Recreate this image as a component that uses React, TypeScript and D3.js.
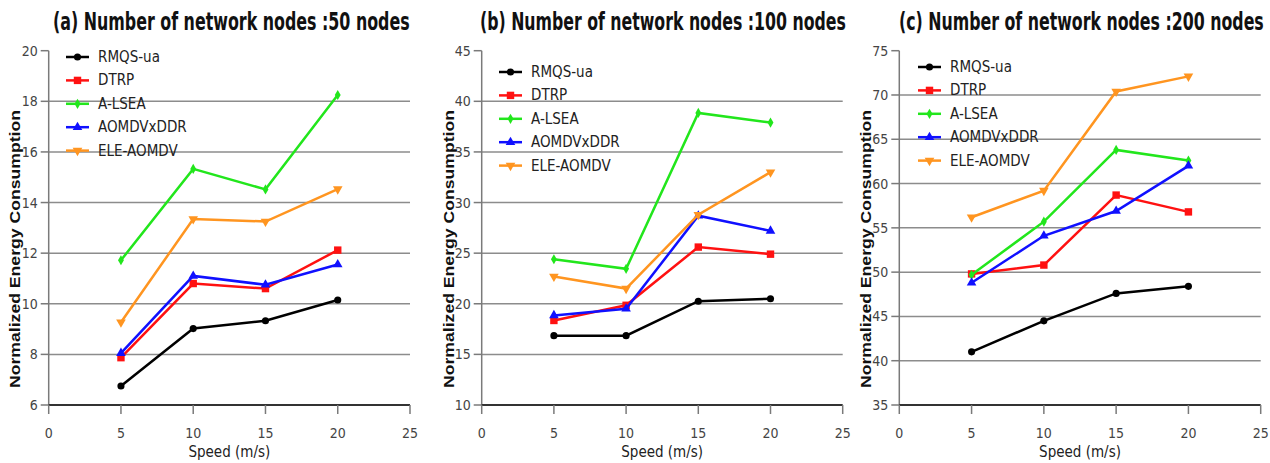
import React, { useEffect, useRef } from "react";
import * as d3 from "d3";

// speeds (m/s)
const speeds = [5, 10, 15, 20];
const seriesNames = ["RMQS-ua", "DTRP", "A-LSEA", "AOMDVxDDR", "ELE-AOMDV"];
const seriesColors = ["#000000", "#ff1111", "#22e61c", "#1010ff", "#ff9520"];

// (a) 50 nodes
const nodes50 = [
  [6.75, 9.02, 9.33, 10.15],
  [7.87, 10.8, 10.6, 12.12],
  [11.72, 15.33, 14.52, 18.25],
  [8.05, 11.1, 10.75, 11.55],
  [9.27, 13.35, 13.25, 14.53],
];
// (b) 100 nodes
const nodes100 = [
  [16.85, 16.85, 20.25, 20.5],
  [18.35, 19.85, 25.6, 24.9],
  [24.4, 23.45, 38.85, 37.9],
  [18.85, 19.5, 28.7, 27.2],
  [22.7, 21.5, 28.8, 33.0],
];
// (c) 200 nodes
const nodes200 = [
  [41.0, 44.5, 47.6, 48.4],
  [49.8, 50.8, 58.7, 56.8],
  [49.7, 55.7, 63.8, 62.6],
  [48.8, 54.1, 56.9, 62.0],
  [56.2, 59.2, 70.4, 72.1],
];

const yTicksA = [6, 8, 10, 12, 14, 16, 18, 20];
const yTicksB = [10, 15, 20, 25, 30, 35, 40, 45];
const yTicksC = [35, 40, 45, 50, 55, 60, 65, 70, 75];
const xTicks = [0, 5, 10, 15, 20, 25];

const panels = [
  { title: "(a) Number of network nodes :50 nodes", data: nodes50, yTicks: yTicksA, left: 48.7, right: 410, titleX: 53, titleW: 357, legX: 66, legY: 57, labelX: 15 },
  { title: "(b) Number of network nodes :100 nodes", data: nodes100, yTicks: yTicksB, left: 481.7, right: 842.7, titleX: 480, titleW: 366, legX: 499, legY: 72, labelX: 449 },
  { title: "(c) Number of network nodes :200 nodes", data: nodes200, yTicks: yTicksC, left: 899.3, right: 1260.7, titleX: 899, titleW: 365, legX: 918, legY: 67, labelX: 866 },
];

const symbols = [d3.symbolCircle, d3.symbolSquare, d3.symbolDiamond, d3.symbolTriangle, d3.symbolTriangle];
const symSizes = [40, 55, 30, 40, 40];

const App: React.FC = () => {
  const ref = useRef<SVGSVGElement>(null);

  useEffect(() => {
    if (!ref.current) return;
    const svg = d3.select(ref.current);
    svg.selectAll("*").remove();

    const top = 50.7;
    const bottom = 405;
    const cond = "'DejaVu Sans Condensed', 'Liberation Sans Narrow', sans-serif";

    panels.forEach((p) => {
      const x = d3.scaleLinear().domain([0, 25]).range([p.left, p.right]);
      const y = d3
        .scaleLinear()
        .domain([p.yTicks[0], p.yTicks[p.yTicks.length - 1]])
        .range([bottom, top]);
      const g = svg.append("g");

      // title: squeezed horizontally to the width seen in the picture
      const title = g
        .append("text")
        .attr("x", 0)
        .attr("y", 0)
        .style("font-family", "'Liberation Sans Narrow', 'DejaVu Sans Condensed', sans-serif")
        .style("font-weight", "bold")
        .style("font-size", "24px")
        .style("fill", "#111")
        .text(p.title);
      const natural = (title.node() as SVGTextElement).getComputedTextLength() || p.titleW;
      title.attr("transform", `translate(${p.titleX},30) scale(${p.titleW / natural},1)`);

      // gridlines
      g.selectAll("line.grid")
        .data(p.yTicks.slice(1, -1))
        .enter()
        .append("line")
        .attr("x1", p.left)
        .attr("x2", p.right)
        .attr("y1", (d) => y(d))
        .attr("y2", (d) => y(d))
        .attr("stroke", "#8c8c8c")
        .attr("stroke-width", 1.5);

      // y axis
      g.append("line")
        .attr("x1", p.left).attr("x2", p.left)
        .attr("y1", top).attr("y2", bottom)
        .attr("stroke", "#7a7a7a").attr("stroke-width", 1.5);
      g.selectAll("line.ytick")
        .data(p.yTicks)
        .enter()
        .append("line")
        .attr("x1", p.left - 8).attr("x2", p.left)
        .attr("y1", (d) => y(d)).attr("y2", (d) => y(d))
        .attr("stroke", "#7a7a7a").attr("stroke-width", 1.5);
      g.selectAll("text.ytick")
        .data(p.yTicks)
        .enter()
        .append("text")
        .attr("x", p.left - 11)
        .attr("y", (d) => y(d) + 5)
        .attr("text-anchor", "end")
        .style("font-family", cond)
        .style("font-size", "14px")
        .style("fill", "#444")
        .text((d) => d);

      // x axis
      g.append("line")
        .attr("x1", p.left).attr("x2", p.right)
        .attr("y1", bottom).attr("y2", bottom)
        .attr("stroke", "#333").attr("stroke-width", 2);
      g.selectAll("line.xtick")
        .data(xTicks)
        .enter()
        .append("line")
        .attr("x1", (d) => x(d)).attr("x2", (d) => x(d))
        .attr("y1", bottom).attr("y2", bottom + 9)
        .attr("stroke", "#7a7a7a").attr("stroke-width", 1.5);
      g.selectAll("text.xtick")
        .data(xTicks)
        .enter()
        .append("text")
        .attr("x", (d) => x(d))
        .attr("y", 438)
        .attr("text-anchor", "middle")
        .style("font-family", cond)
        .style("font-size", "14px")
        .style("fill", "#444")
        .text((d) => d);

      // axis labels
      g.append("text")
        .attr("x", (p.left + p.right) / 2)
        .attr("y", 457)
        .attr("text-anchor", "middle")
        .style("font-family", cond)
        .style("font-size", "15px")
        .style("fill", "#222")
        .text("Speed (m/s)");
      g.append("text")
        .attr("transform", `translate(${p.labelX + 5},249) rotate(-90)`)
        .attr("text-anchor", "middle")
        .attr("textLength", 278)
        .attr("lengthAdjust", "spacingAndGlyphs")
        .style("font-family", "'Liberation Sans', Arial, sans-serif")
        .style("font-weight", "bold")
        .style("font-size", "14px")
        .style("fill", "#111")
        .text("Normalized Energy Consumption");

      // series
      const line = d3
        .line<number>()
        .x((_, i) => x(speeds[i]))
        .y((d) => y(d));
      p.data.forEach((vals, si) => {
        const color = seriesColors[si];
        g.append("path")
          .datum(vals)
          .attr("d", line)
          .attr("fill", "none")
          .attr("stroke", color)
          .attr("stroke-width", 2.5);
        const sym = d3.symbol().type(symbols[si]).size(symSizes[si]);
        g.selectAll(null)
          .data(vals)
          .enter()
          .append("path")
          .attr("d", sym)
          .attr("transform", (d, i) => `translate(${x(speeds[i])},${y(d)})${si === 4 ? " rotate(180)" : ""}`)
          .attr("fill", color);
      });

      // legend
      seriesNames.forEach((name, si) => {
        const ly = p.legY + si * 23.4;
        g.append("line")
          .attr("x1", p.legX).attr("x2", p.legX + 23)
          .attr("y1", ly).attr("y2", ly)
          .attr("stroke", seriesColors[si]).attr("stroke-width", 2.5);
        const sym = d3.symbol().type(symbols[si]).size(symSizes[si]);
        g.append("path")
          .attr("d", sym)
          .attr("transform", `translate(${p.legX + 11.5},${ly})${si === 4 ? " rotate(180)" : ""}`)
          .attr("fill", seriesColors[si]);
        g.append("text")
          .attr("x", p.legX + 32)
          .attr("y", ly + 5)
          .style("font-family", cond)
          .style("font-size", "15px")
          .style("fill", "#222")
          .text(name);
      });
    });
  }, []);

  return (
    <svg
      ref={ref}
      width={1270}
      height={463}
      style={{ position: "absolute", left: 0, top: 0, background: "#fff" }}
    />
  );
};

export default App;
